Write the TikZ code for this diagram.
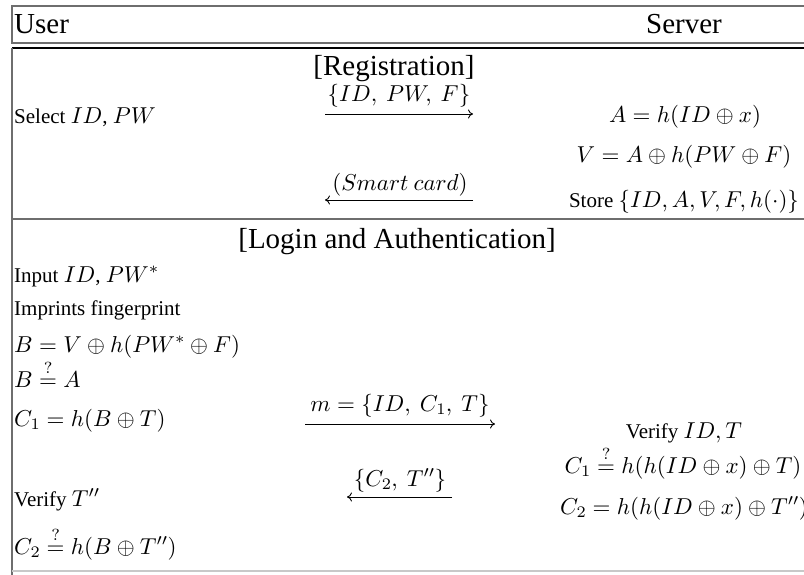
\documentclass[tikz,border=0pt]{standalone}
\usepackage[no-math]{fontspec}
\setmainfont{Liberation Serif}
\DeclareFontShape{OT1}{cmr}{m}{n}{<-13>cmr5<13-20>cmr7<20->cmr10}{}
\DeclareFontShape{OML}{cmm}{m}{it}{<-13>cmmi5<13-20>cmmi7<20->cmmi10}{\skewchar\font127 }
\DeclareFontShape{OMS}{cmsy}{m}{n}{<-13>cmsy5<13-20>cmsy7<20->cmsy10}{\skewchar\font48 }
\DeclareFontShape{OMX}{cmex}{m}{n}{<->cmex10}{}
\DeclareMathSizes{21}{23}{16.1}{11.5}
\usetikzlibrary{arrows.meta}
\definecolor{framegray}{RGB}{110,110,110}
\definecolor{lightframe}{RGB}{200,200,200}
\tikzset{
  hdr/.style={font=\fontsize{29}{34}\selectfont, inner sep=0pt},
  txt/.style={font=\fontsize{21}{25}\selectfont, inner sep=0pt},
  msg/.style={line width=0.9pt, -{To[length=5pt,width=9pt]}},
  gline/.style={draw=framegray, line width=1.4pt},
  bline/.style={draw=black, line width=1.4pt},
  lline/.style={draw=lightframe, line width=1.4pt},
}
\begin{document}
\begin{tikzpicture}[x=1pt,y=-1pt]
\useasboundingbox (0,0) rectangle (804,574);
\clip (0,0) rectangle (804,574);
% frame
\draw[gline] (830,6) -- (12,6) -- (12,43) -- (830,43);
\draw[bline] (12,48) -- (830,48);
\draw[gline] (12,48) -- (12,590);
\draw[gline] (12,219) -- (830,219);
\draw[lline] (12,571) -- (830,571);
% header
\node[hdr, anchor=base west] (user) at (14,33) {User};
\node[hdr, anchor=base] (server) at (684,33) {Server};
% registration
\node[hdr, anchor=base] (reg) at (394,75) {[Registration]};
\node[txt, anchor=base west] (sel) at (14,123) {Select $ID$, $PW$};
\node[txt, anchor=base] (sA) at (685,122) {$A = h(ID\oplus x)$};
\node[txt, anchor=base] (sV) at (684,162) {$V = A\oplus h(PW\oplus F)$};
\node[txt, anchor=base] (sStore) at (684,207) {Store $\{ID, A, V, F, h(\cdot)\}$};
\coordinate (r1a) at (325,114);
\coordinate (r1b) at (473,114);
\draw[msg] (r1a) -- (r1b);
\node[txt, anchor=base] (l1) at (399,101) {$\{ID,\ PW,\ F\}$};
\coordinate (r2a) at (473,200);
\coordinate (r2b) at (325,200);
\draw[msg] (r2a) -- (r2b);
\node[txt, anchor=base] (l2) at (400,190) {$(Smart\ card)$};
% login
\node[hdr, anchor=base] (login) at (397,248) {[Login and Authentication]};
\node[txt, anchor=base west] (u1) at (14,282) {Input $ID$, $PW^{*}$};
\node[txt, anchor=base west] (u2) at (14,315) {Imprints fingerprint};
\node[txt, anchor=base west] (u3) at (14,352) {$B = V\oplus h(PW^{*}\oplus F)$};
\node[txt, anchor=base west] (u4) at (14,387) {$B \stackrel{?}{=} A$};
\node[txt, anchor=base west] (u5) at (14,426) {$C_1 = h(B\oplus T)$};
\node[txt, anchor=base west] (u6) at (14,506) {Verify $T''$};
\node[txt, anchor=base west] (u7) at (14,554) {$C_2 \stackrel{?}{=} h(B\oplus T'')$};
\node[txt, anchor=base] (s1) at (684,438) {Verify $ID, T$};
\node[txt, anchor=base] (s2) at (683,473) {$C_1 \stackrel{?}{=} h(h(ID\oplus x)\oplus T)$};
\node[txt, anchor=base] (s3) at (684,514) {$C_2 = h(h(ID\oplus x)\oplus T'')$};
\coordinate (m1a) at (305,424);
\coordinate (m1b) at (495,424);
\draw[msg] (m1a) -- (m1b);
\node[txt, anchor=base] (lm1) at (400,411) {$m = \{ID,\ C_1,\ T\}$};
\coordinate (m2a) at (452,497);
\coordinate (m2b) at (347,497);
\draw[msg] (m2a) -- (m2b);
\node[txt, anchor=base] (lm2) at (400,486) {$\{C_2,\ T''\}$};
\end{tikzpicture}
\end{document}
